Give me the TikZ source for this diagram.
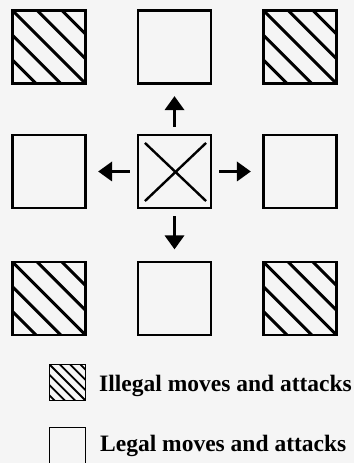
\documentclass[tikz,border=0pt]{standalone}
\usepackage{fontspec}
\setmainfont{Liberation Serif}
\usepackage{tikz}
\usetikzlibrary{calc}
\usetikzlibrary{arrows.meta}

\tikzset{
  box/.style={draw,line width=2.2pt,minimum size=73pt,inner sep=0pt},
  smallbox/.style={draw,line width=1.8pt,minimum size=36pt,inner sep=0pt},
  hatched/.style n args={3}{path picture={
      \foreach \k in {-#2,...,#2}
        \draw[line width=#3] ($(path picture bounding box.north west)+(\k*#1,0)$) -- ++(2*#2*#1,-2*#2*#1);
    }},
  move/.style={line width=3.5pt,-{Triangle[width=19pt,length=14pt]},shorten <=7pt,shorten >=11.5pt},
  legendtext/.style={anchor=base west,font=\bfseries\fontsize{23.5}{23.5}\selectfont,inner sep=0pt}
}

\begin{document}
\begin{tikzpicture}[x=1pt,y=1pt]
\fill[black!4] (0,0) rectangle (354,463);
\useasboundingbox (0,0) rectangle (354,463);

% grid of squares
\node[box,hatched={24.7pt}{2}{3pt}] (tl) at (49,416) {};
\node[box] (tm) at (174.5,416) {};
\node[box,hatched={24.7pt}{2}{3pt}] (tr) at (300,416) {};
\node[box] (ml) at (49,291.5) {};
\node[box] (mm) at (174.5,291.5) {};
\node[box] (mr) at (300,291.5) {};
\node[box,hatched={24.7pt}{2}{3pt}] (bl) at (49,164.5) {};
\node[box] (bm) at (174.5,164.5) {};
\node[box,hatched={24.7pt}{2}{3pt}] (br) at (300,164.5) {};

% the piece
\draw[line width=2.4pt] ($(mm.north west)+(8,-9)$) -- ($(mm.south east)+(-6,8)$);
\draw[line width=2.4pt] ($(mm.north east)+(-6,-9)$) -- ($(mm.south west)+(8,8)$);

% moves
\draw[move] (mm.north) -- (tm.south);
\draw[move] (mm.west) -- (ml.east);
\draw[move] (mm.east) -- (mr.west);
\draw[move] (mm.south) -- (bm.north);

% legend
\node[smallbox,hatched={10.3pt}{3}{1.8pt}] (legill) at (67.5,80.5) {};
\node[smallbox] (leglegal) at (67.5,17.5) {};
\node[legendtext] (txtill) at (99,71) {Illegal moves and attacks};
\node[legendtext] (txtlegal) at (100,11) {Legal moves and attacks};
\end{tikzpicture}
\end{document}
